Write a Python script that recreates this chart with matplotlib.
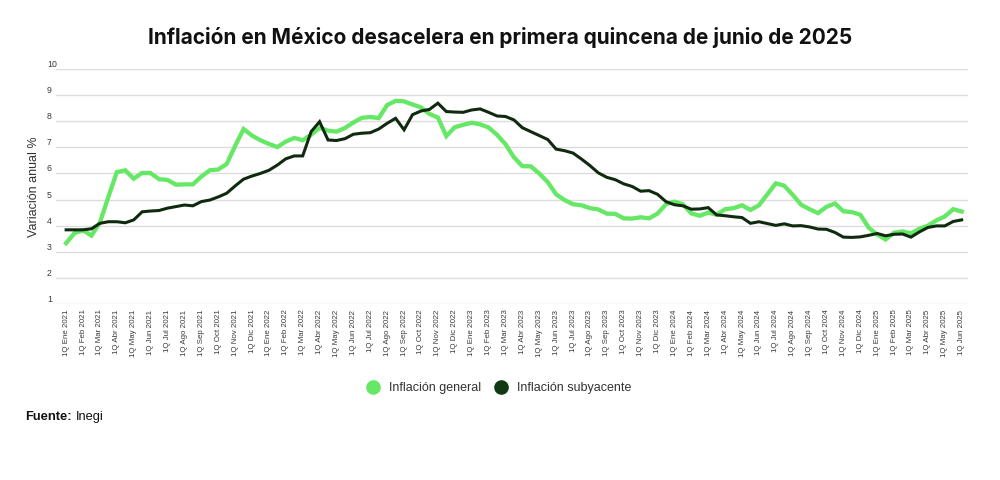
import matplotlib
matplotlib.use("Agg")
import matplotlib.pyplot as plt
from matplotlib.lines import Line2D

# ── Colors ──
GREEN = "#66e866"
DARK = "#0f2a0f"
GRID = "#dcdcdc"
FG = "#111111"
FG_SECONDARY = "#3a3a3a"

# ── Data (quincenal, variación anual %) ──
MONTHS = ["Ene", "Feb", "Mar", "Abr", "May", "Jun",
          "Jul", "Ago", "Sep", "Oct", "Nov", "Dic"]
YEARS = [2021, 2022, 2023, 2024, 2025]

general = [
    # 2021
    3.33, 3.72, 3.82, 3.62, 4.12, 5.10, 6.05, 6.12, 5.80, 6.02, 6.01, 5.78,
    5.75, 5.57, 5.58, 5.58, 5.88, 6.12, 6.15, 6.36, 7.05, 7.70, 7.45, 7.27,
    # 2022
    7.13, 7.01, 7.22, 7.36, 7.27, 7.48, 7.74, 7.64, 7.60, 7.74, 7.95, 8.13,
    8.16, 8.12, 8.62, 8.78, 8.76, 8.64, 8.53, 8.28, 8.14, 7.43, 7.77, 7.86,
    # 2023
    7.94, 7.88, 7.76, 7.48, 7.12, 6.62, 6.28, 6.27, 6.00, 5.67, 5.20, 4.98,
    4.82, 4.78, 4.67, 4.62, 4.46, 4.45, 4.28, 4.27, 4.32, 4.28, 4.46, 4.82,
    # 2024
    4.92, 4.82, 4.47, 4.38, 4.50, 4.42, 4.63, 4.67, 4.78, 4.60, 4.78, 5.20,
    5.62, 5.53, 5.18, 4.80, 4.63, 4.48, 4.72, 4.85, 4.55, 4.52, 4.42, 3.92,
    # 2025
    3.66, 3.47, 3.73, 3.78, 3.70, 3.88, 4.00, 4.20, 4.35, 4.63, 4.54,
]

subyacente = [
    # 2021
    3.84, 3.84, 3.84, 3.88, 4.09, 4.15, 4.15, 4.11, 4.22, 4.53, 4.56, 4.58,
    4.67, 4.73, 4.79, 4.76, 4.92, 4.98, 5.10, 5.24, 5.52, 5.78, 5.90, 6.00,
    # 2022
    6.12, 6.32, 6.56, 6.67, 6.67, 7.60, 7.98, 7.28, 7.26, 7.33, 7.50, 7.54,
    7.56, 7.70, 7.92, 8.11, 7.67, 8.25, 8.39, 8.45, 8.69, 8.37, 8.35, 8.34,
    # 2023
    8.43, 8.47, 8.34, 8.20, 8.18, 8.05, 7.75, 7.60, 7.45, 7.30, 6.93, 6.87,
    6.78, 6.55, 6.30, 6.02, 5.85, 5.76, 5.60, 5.50, 5.32, 5.34, 5.20, 4.92,
    # 2024
    4.80, 4.76, 4.63, 4.64, 4.69, 4.41, 4.38, 4.34, 4.31, 4.09, 4.15, 4.08,
    4.01, 4.07, 3.99, 4.00, 3.95, 3.87, 3.86, 3.74, 3.56, 3.55, 3.57, 3.63,
    # 2025
    3.70, 3.61, 3.67, 3.68, 3.56, 3.76, 3.93, 3.99, 3.99, 4.16, 4.22,
]

# one label per month, on the first fortnight
tick_labels = [f"1Q {m} {y}" for y in YEARS for m in MONTHS][:54]

plt.rcParams["font.family"] = ["Liberation Sans", "DejaVu Sans"]

fig = plt.figure(figsize=(10, 4.8), dpi=100)
fig.set_facecolor("white")
ax = fig.add_axes([0.056, 0.3667, 0.912, 0.4896])

x = list(range(len(general)))
ax.plot(x, general, color=GREEN, lw=3.1, solid_joinstyle="miter",
        zorder=3)
ax.plot(x, subyacente, color=DARK, lw=2.2, solid_joinstyle="miter",
        zorder=4)

ax.set_xlim(-1.2, len(general) - 0.25)
ax.set_ylim(1, 10)

# y axis: labels sit above the grid lines, on the left
ax.set_yticks(range(1, 11))
ax.set_yticklabels([str(v) for v in range(1, 11)])
ax.tick_params(axis="y", length=0, pad=6.5, labelsize=6.3,
               labelcolor=FG_SECONDARY)
for lbl in ax.get_yticklabels():
    lbl.set_horizontalalignment("left")
    lbl.set_verticalalignment("bottom")
ax.yaxis.grid(True, color=GRID, lw=1.0)
ax.set_axisbelow(True)

ax.set_xticks(range(0, len(general), 2))
ax.set_xticklabels(tick_labels, rotation=90, fontsize=5.7,
                   color=FG_SECONDARY)
ax.tick_params(axis="x", length=0, pad=4)

for s in ax.spines.values():
    s.set_visible(False)

ax.set_ylabel("Variación anual %", fontsize=9, color="#333333")
ax.yaxis.set_label_coords(-0.018, 0.5)

fig.text(0.5, 1 - 37 / 480, "Inflación en México desacelera en primera "
         "quincena de junio de 2025", ha="center", va="center",
         fontsize=15, fontweight="bold", color=FG,
         family=["Inter", "DejaVu Sans"])

handles = [
    Line2D([], [], ls="none", marker="o", ms=9.5, mfc=GREEN, mec=GREEN,
           label="Inflación general"),
    Line2D([], [], ls="none", marker="o", ms=9.5, mfc="#123a12",
           mec="#123a12", label="Inflación subyacente"),
]
fig.legend(handles=handles, loc="center", ncol=2,
           bbox_to_anchor=(0.496, 1 - 388 / 480), frameon=False,
           fontsize=9, handletextpad=0.3, columnspacing=0.6,
           labelcolor="#333333")

fig.text(0.025, 1 - 417 / 480, "Fuente:", ha="left", va="center",
         fontsize=9.3, fontweight="bold", color=FG)
fig.text(0.0755, 1 - 417 / 480, "Inegi", ha="left", va="center",
         fontsize=9.3, color=FG)

fig.savefig("out.png", dpi=100, facecolor="white")
